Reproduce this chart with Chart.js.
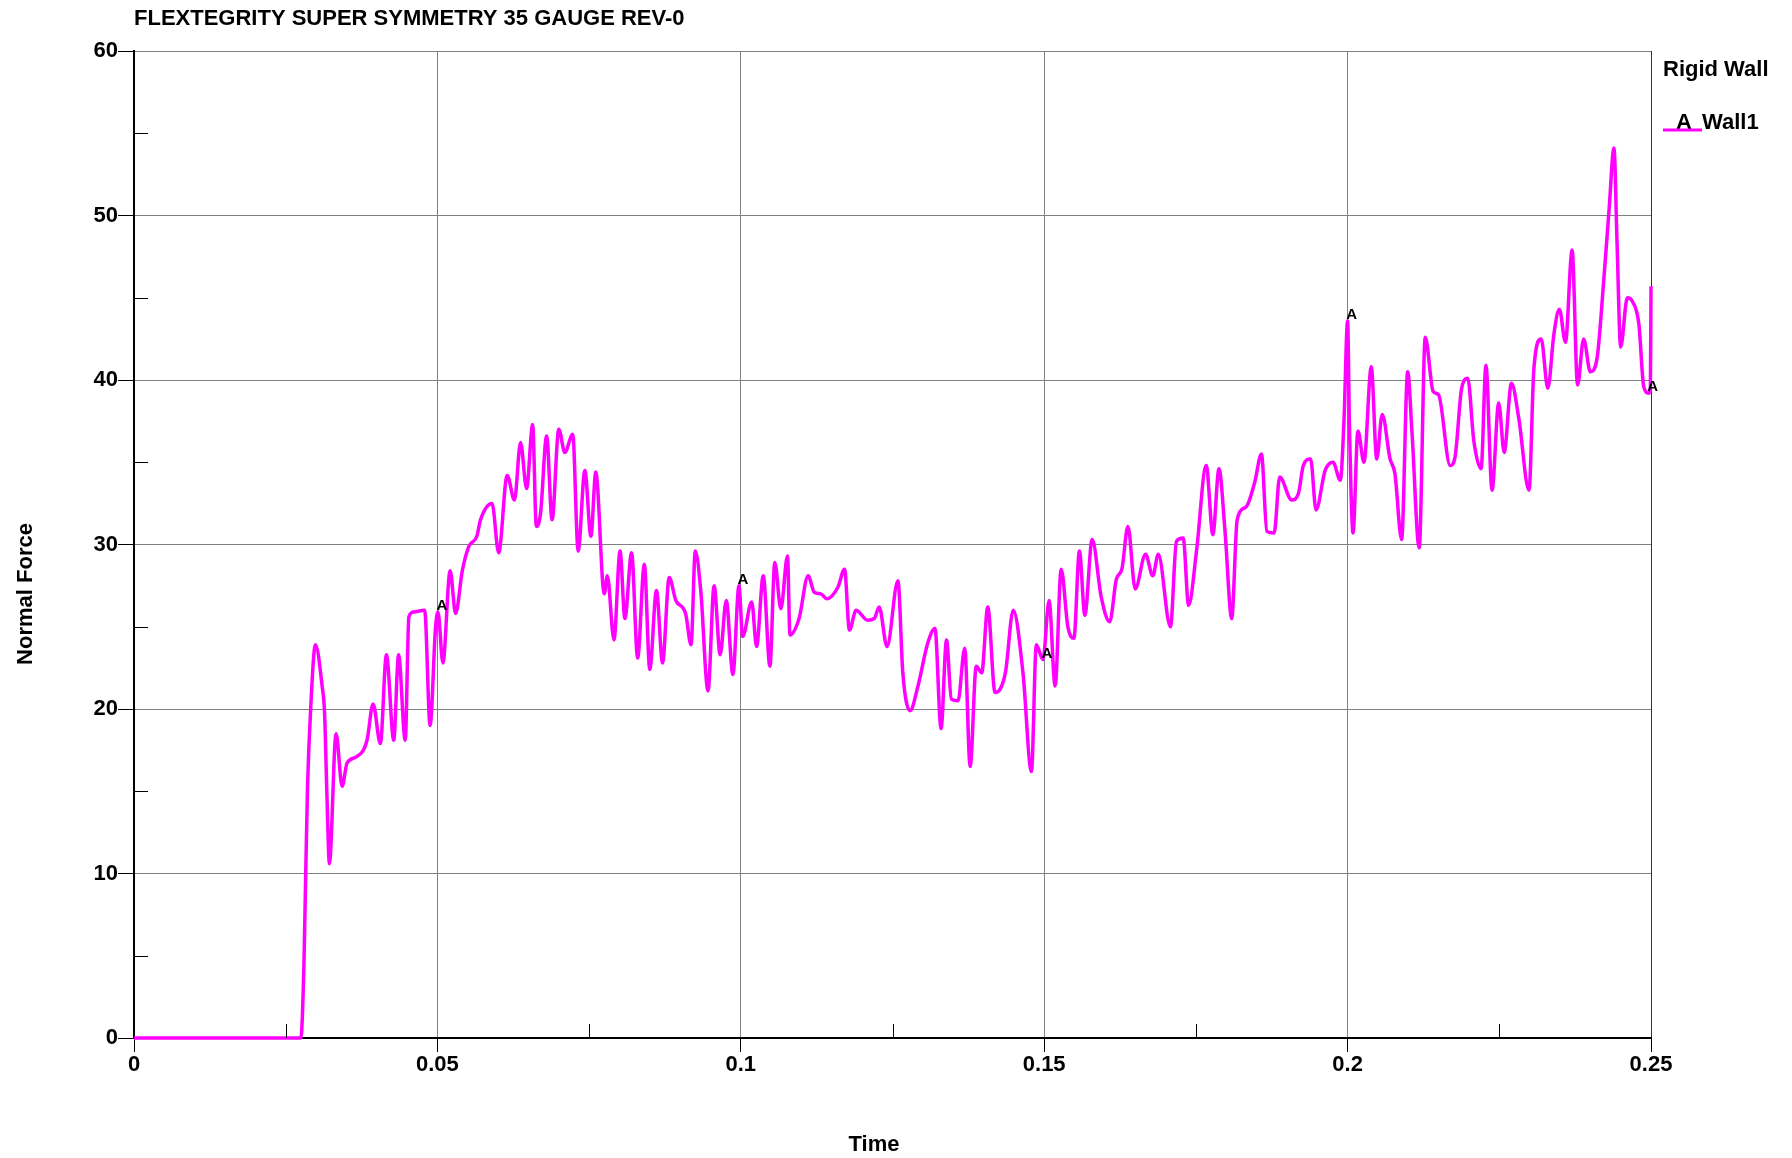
<!DOCTYPE html>
<html>
<head>
<meta charset="utf-8">
<title>FLEXTEGRITY SUPER SYMMETRY 35 GAUGE REV-0</title>
<script src="https://cdn.jsdelivr.net/npm/chart.js"></script>
<style>
  html, body { margin: 0; padding: 0; background: #ffffff; }
  #wrap { width: 1792px; height: 1158px; }
</style>
</head>
<body>
<div id="wrap"><canvas id="forceChart" width="1792" height="1158"></canvas></div>
<script>
// Rigid wall normal force vs time
const timeValues = [
    0, 0.0275, 0.0280, 0.0283, 0.0286, 0.0291, 0.0299, 0.0310, 0.0314, 0.0318,
    0.0322, 0.0333, 0.0343, 0.0351, 0.0367, 0.0384, 0.0394, 0.0406, 0.0416, 0.0428,
    0.0436, 0.0447, 0.0453, 0.0461, 0.0479, 0.0488, 0.0497, 0.0501, 0.0509, 0.0521,
    0.0530, 0.0541, 0.0552, 0.0565, 0.0571, 0.0590, 0.0601, 0.0615, 0.0627, 0.0637,
    0.0647, 0.0657, 0.0663, 0.0670, 0.0680, 0.0689, 0.0700, 0.0710, 0.0723, 0.0732,
    0.0743, 0.0753, 0.0761, 0.0775, 0.0780, 0.0791, 0.0801, 0.0809, 0.0820, 0.0830,
    0.0841, 0.0850, 0.0861, 0.0871, 0.0882, 0.0893, 0.0909, 0.0918, 0.0925, 0.0934,
    0.0946, 0.0956, 0.0966, 0.0976, 0.0987, 0.0997, 0.1003, 0.1018, 0.1026, 0.1037,
    0.1048, 0.1056, 0.1066, 0.1077, 0.1081, 0.1096, 0.1111, 0.1121, 0.1132, 0.1142,
    0.1160, 0.1171, 0.1179, 0.1190, 0.1209, 0.1220, 0.1228, 0.1241, 0.1259, 0.1267,
    0.1279, 0.1292, 0.1308, 0.1320, 0.1330, 0.1339, 0.1347, 0.1358, 0.1369, 0.1378,
    0.1388, 0.1397, 0.1407, 0.1419, 0.1436, 0.1449, 0.1465, 0.1479, 0.1487, 0.1498,
    0.1508, 0.1518, 0.1528, 0.1539, 0.1549, 0.1558, 0.1567, 0.1579, 0.1594, 0.1608,
    0.1619, 0.1628, 0.1638, 0.1650, 0.1667, 0.1679, 0.1688, 0.1708, 0.1718, 0.1729,
    0.1738, 0.1751, 0.1767, 0.1778, 0.1788, 0.1798, 0.1809, 0.1818, 0.1833, 0.1847,
    0.1858, 0.1867, 0.1879, 0.1888, 0.1908, 0.1919, 0.1927, 0.1939, 0.1948, 0.1963,
    0.1976, 0.1988, 0.1994, 0.2000, 0.2003, 0.2009, 0.2017, 0.2027, 0.2039, 0.2048,
    0.2057, 0.2070, 0.2078, 0.2089, 0.2099, 0.2106, 0.2118, 0.2128, 0.2141, 0.2150,
    0.2169, 0.2177, 0.2188, 0.2198, 0.2208, 0.2220, 0.2228, 0.2238, 0.2249, 0.2258,
    0.2270, 0.2282, 0.2299, 0.2307, 0.2319, 0.2330, 0.2340, 0.2349, 0.2359, 0.2370,
    0.2379, 0.2389, 0.2400, 0.2411, 0.2422, 0.2431, 0.2439, 0.2444, 0.2450, 0.2461,
    0.2469, 0.2480, 0.2488, 0.2496, 0.2499, 0.2500
];
const forceValues = [
    0, 0, 4.4, 10.0, 15.3, 19.9, 23.9, 21.4, 19.8, 14.7,
    10.6, 18.5, 15.3, 16.7, 17.1, 18.1, 20.3, 17.9, 23.3, 18.1,
    23.3, 18.1, 25.6, 25.9, 26.0, 19.0, 25.0, 25.9, 22.8, 28.4,
    25.8, 28.4, 29.9, 30.5, 31.5, 32.5, 29.5, 34.2, 32.7, 36.2,
    33.4, 37.3, 31.1, 31.9, 36.6, 31.5, 37.0, 35.6, 36.7, 29.6,
    34.5, 30.5, 34.4, 27.0, 28.1, 24.2, 29.6, 25.5, 29.5, 23.1,
    28.8, 22.4, 27.2, 22.8, 28.0, 26.6, 25.8, 23.9, 29.6, 27.2,
    21.1, 27.5, 23.3, 26.6, 22.1, 27.5, 24.4, 26.5, 23.8, 28.1,
    22.6, 28.9, 26.1, 29.3, 24.5, 25.5, 28.1, 27.1, 27.0, 26.7,
    27.4, 28.5, 24.8, 26.0, 25.4, 25.5, 26.2, 23.8, 27.8, 22.2,
    19.9, 21.4, 24.0, 24.9, 18.8, 24.2, 20.6, 20.5, 23.7, 16.5,
    22.6, 22.2, 26.2, 21.0, 22.2, 26.0, 22.2, 16.2, 23.9, 23.0,
    26.6, 21.4, 28.5, 25.0, 24.3, 29.6, 25.7, 30.3, 26.8, 25.3,
    27.9, 28.5, 31.1, 27.3, 29.4, 28.1, 29.4, 25.0, 30.2, 30.4,
    26.3, 29.6, 34.8, 30.6, 34.6, 30.8, 25.5, 31.5, 32.3, 33.8,
    35.5, 30.8, 30.7, 34.1, 32.7, 33.1, 34.8, 35.2, 32.1, 34.5,
    35.0, 33.9, 37.5, 43.6, 37.3, 30.7, 36.9, 35.0, 40.8, 35.2,
    37.9, 35.2, 34.3, 30.3, 40.5, 36.9, 29.8, 42.6, 39.3, 39.1,
    34.8, 35.3, 39.5, 40.1, 36.3, 34.6, 40.9, 33.3, 38.6, 35.6,
    39.8, 37.7, 33.3, 40.7, 42.5, 39.5, 42.8, 44.3, 42.3, 47.9,
    39.7, 42.5, 40.5, 41.3, 46.0, 50.4, 54.1, 48.4, 42.0, 45.0,
    44.8, 43.4, 39.6, 39.2, 39.4, 45.7
];

const xTickValues = [0, 0.05, 0.1, 0.15, 0.2, 0.25];
const yTickValues = [0, 10, 20, 30, 40, 50, 60];
const xMinorTicks = [0.025, 0.075, 0.125, 0.175, 0.225];
const yMinorTicks = [5, 15, 25, 35, 45, 55];
// times where the curve carries its "A" symbol (nearest sample is used)
const markerTimes = [0.05, 0.0998, 0.15, 0.2, 0.2497];

const chartTitle = "FLEXTEGRITY SUPER SYMMETRY 35 GAUGE REV-0";
const xTitle = "Time";
const yTitle = "Normal Force";
const legendTitle = "Rigid Wall";
const seriesName = "Wall1";
const seriesSymbol = "A";

const FONT = "'Liberation Sans', Arial, sans-serif";
const MAGENTA = "#ff00ff";

var points = timeValues.map(function (t, i) {
    return { x: t, y: forceValues[i] };
});

function nearestIndex(t) {
    var best = 0;
    for (var i = 1; i < timeValues.length; i++) {
        if (Math.abs(timeValues[i] - t) < Math.abs(timeValues[best] - t)) {
            best = i;
        }
    }
    return best;
}

const decorations = {
    id: "decorations",
    afterDraw: function (chart) {
        const ctx = chart.ctx;
        const area = chart.chartArea;
        const xs = chart.scales.x;
        const ys = chart.scales.y;
        ctx.save();

        // minor ticks, pointing into the plot
        ctx.strokeStyle = "#000";
        ctx.lineWidth = 1;
        ctx.beginPath();
        xMinorTicks.forEach(function (v) {
            var px = Math.round(xs.getPixelForValue(v)) + 0.5;
            ctx.moveTo(px, area.bottom);
            ctx.lineTo(px, area.bottom - 14);
        });
        yMinorTicks.forEach(function (v) {
            var py = Math.round(ys.getPixelForValue(v)) + 0.5;
            ctx.moveTo(area.left, py);
            ctx.lineTo(area.left + 14, py);
        });
        ctx.stroke();

        // curve symbols
        ctx.fillStyle = "#000";
        ctx.font = "bold 15px " + FONT;
        ctx.textAlign = "center";
        ctx.textBaseline = "middle";
        markerTimes.forEach(function (t) {
            var i = nearestIndex(t);
            ctx.fillText(seriesSymbol, xs.getPixelForValue(timeValues[i]) + 4, ys.getPixelForValue(forceValues[i]) - 6);
        });

        // title
        ctx.font = "bold 22px " + FONT;
        ctx.textAlign = "left";
        ctx.textBaseline = "middle";
        ctx.fillText(chartTitle, area.left, 19);

        // axis titles
        ctx.textAlign = "center";
        ctx.fillText(xTitle, 874, 1145);
        ctx.save();
        ctx.translate(26, 594);
        ctx.rotate(-Math.PI / 2);
        ctx.fillText(yTitle, 0, 0);
        ctx.restore();

        // legend
        ctx.textAlign = "left";
        ctx.textBaseline = "alphabetic";
        ctx.fillText(legendTitle, area.right + 12, 76);
        ctx.fillText(seriesSymbol, area.right + 25, 129);
        ctx.fillText(seriesName, area.right + 51, 129);
        ctx.strokeStyle = MAGENTA;
        ctx.lineWidth = 3;
        ctx.beginPath();
        ctx.moveTo(area.right + 12, 130);
        ctx.lineTo(area.right + 51, 130);
        ctx.stroke();

        ctx.restore();
    }
};

const canvas = document.getElementById("forceChart");

new Chart(canvas, {
    type: "line",
    data: {
        datasets: [
            {
                label: seriesName,
                data: points,
                borderColor: MAGENTA,
                borderWidth: 3.5,
                pointRadius: 0,
                cubicInterpolationMode: "monotone",
                fill: false,
                clip: 6,
            },
        ],
    },
    options: {
        responsive: false,
        animation: false,
        events: [],
        layout: { padding: { top: 51, right: 141, bottom: 0, left: 0 } },
        plugins: {
            legend: { display: false },
            tooltip: { enabled: false },
        },
        scales: {
            x: {
                type: "linear",
                min: 0,
                max: 0.25,
                afterBuildTicks: function (scale) {
                    scale.ticks = xTickValues.map(function (v) { return { value: v }; });
                },
                afterFit: function (scale) { scale.height = 120; },
                ticks: {
                    autoSkip: false,
                    maxRotation: 0,
                    padding: 0,
                    color: "#000",
                    font: { family: FONT, size: 22, weight: "bold" },
                    callback: function (v) { return String(Number(v.toFixed(2))); },
                },
                grid: {
                    color: function (c) { return c.tick && c.tick.value >= 0.25 ? "#333" : "#808080"; },
                    lineWidth: 1,
                    tickLength: 14,
                    tickColor: "#000",
                },
                border: { display: true, color: "#000", width: 2 },
            },
            y: {
                min: 0,
                max: 60,
                afterBuildTicks: function (scale) {
                    scale.ticks = yTickValues.map(function (v) { return { value: v }; });
                },
                afterFit: function (scale) { scale.width = 134; },
                ticks: {
                    padding: 0,
                    color: "#000",
                    font: { family: FONT, size: 22, weight: "bold" },
                },
                grid: {
                    color: "#808080",
                    lineWidth: 1,
                    tickLength: 16,
                    tickColor: "#000",
                },
                border: { display: true, color: "#000", width: 2 },
            },
        },
    },
    plugins: [decorations],
});
</script>
</body>
</html>
